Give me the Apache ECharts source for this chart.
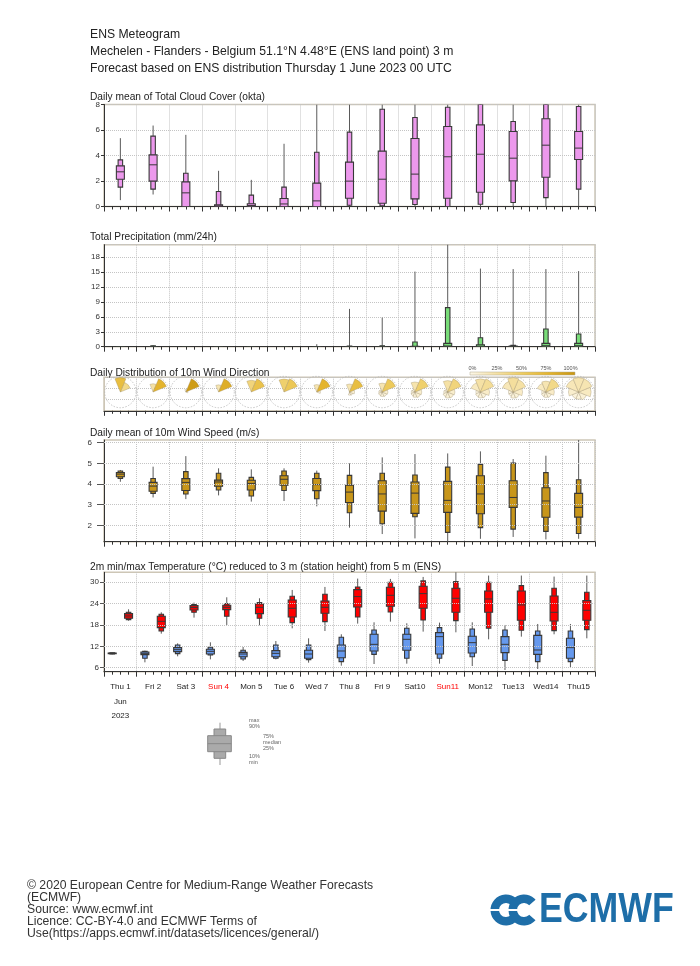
<!DOCTYPE html>
<html><head><meta charset="utf-8">
<script src="https://cdn.jsdelivr.net/npm/echarts@6/dist/echarts.min.js"></script>
<style>html,body{margin:0;padding:0;background:#fff}#c{width:700px;height:966px}</style>
</head><body><div id="c"></div>
<script>
// ---------- DATA ----------
const days = ['Thu 1','Fri 2','Sat 3','Sun 4','Mon 5','Tue 6','Wed 7','Thu 8','Fri 9','Sat10','Sun11','Mon12','Tue13','Wed14','Thu15'];
const redDays = ['Sun 4','Sun11'];

// Total cloud cover (okta)
const cloudMin = [0.5,0.94,0,0,0,0,0,0,0,0,0,0,0,0,0];
const cloudP10 = [1.52,1.36,0,0,0,0,0,0.1,0.05,0.16,0,0.18,0.31,0.7,1.36];
const cloudP25 = [2.14,1.99,0,0,0,0,0,0.65,0.26,0.6,0.65,1.12,2.01,2.3,3.69];
const cloudMed = [2.72,3.27,1.07,0.05,0.08,0.2,0.44,1.99,2.14,2.54,3.9,4.1,3.79,4.81,4.58];
const cloudP75 = [3.19,4.05,1.93,0.13,0.21,0.63,1.83,3.48,4.34,5.33,6.27,6.4,5.88,6.88,5.88];
const cloudP90 = [3.66,5.52,2.61,1.18,0.89,1.52,4.26,5.83,7.63,6.98,7.79,8,6.67,8,7.84];
const cloudMax = [5.36,6.35,5.62,2.8,2.09,4.92,8,8,8,8,8,8,8,8,8];

// Total precipitation (mm/24h)
const precMin = [0,0,0,0,0,0,0,0,0,0,0,0,0,0,0];
const precP10 = [0,0,0,0,0,0,0,0,0,0,0,0,0,0,0];
const precP25 = [0,0,0,0,0,0,0,0,0,0,0.05,0,0,0,0];
const precMed = [0,0,0,0,0,0,0,0,0,0,0.15,0.1,0.05,0.2,0.2];
const precP75 = [0,0.05,0,0,0,0,0,0.05,0.05,0.1,0.67,0.4,0.15,0.67,0.67];
const precP90 = [0.02,0.2,0,0,0,0,0.05,0.15,0.2,0.94,7.86,1.81,0.27,3.56,2.55];
const precMax = [0.1,0.3,0,0,0,0,0.5,7.6,5.85,15.1,21,15.7,15.6,15.6,15.2];

// Wind direction frequency (%) per sector
const dirN  = [65,25,3,20,40,45,20,20,20,22,25,25,28,20,20];
const dirNE = [35,75,95,80,60,55,75,65,52,45,40,30,25,35,20];
const dirE  = [0,0,2,0,0,0,5,8,8,10,10,12,12,12,15];
const dirSE = [0,0,0,0,0,0,0,4,6,8,8,6,6,6,7];
const dirS  = [0,0,0,0,0,0,0,3,5,6,7,5,5,5,5];
const dirSW = [0,0,0,0,0,0,0,0,4,4,5,4,3,4,5];
const dirW  = [0,0,0,0,0,0,0,0,3,3,3,3,3,3,10];
const dirNW = [0,0,0,0,0,0,0,0,2,2,2,15,18,15,18];

// 10m wind speed (m/s)
const wsMin = [4.11,3.35,3.27,3.45,3.15,3.18,2.92,1.89,1.58,1.37,1.21,1.35,1.44,1.32,1.35];
const wsP10 = [4.27,3.55,3.52,3.71,3.42,3.69,3.29,2.61,2.08,2.42,1.66,1.89,1.82,1.71,1.61];
const wsP25 = [4.35,3.65,3.69,3.89,3.71,3.94,3.68,3.11,2.69,2.58,2.63,2.56,2.87,2.39,2.4];
const wsMed = [4.48,3.9,4.08,4.1,4.03,4.23,3.97,3.61,3.52,3.56,3.21,3.52,3.35,3.18,2.87];
const wsP75 = [4.56,4.08,4.26,4.19,4.18,4.4,4.27,3.94,4.16,4.1,4.13,4.4,4.16,3.82,3.55];
const wsP90 = [4.63,4.27,4.6,4.52,4.32,4.63,4.52,4.42,4.52,4.44,4.82,4.95,5.02,4.55,4.21];
const wsMax = [4.68,4.84,5.35,4.76,4.71,4.76,4.65,5.0,5.29,5.45,5.48,5.58,5.21,5.37,6.2];

// 2m max temperature (°C)
const tmaxMin = [19.2,15.56,20.06,18.0,17.9,17.06,16.3,18.38,18.94,16.13,15.94,13.97,14.72,15.38,14.25];
const tmaxP10 = [19.5,16.3,21.56,20.44,19.88,18.66,18.94,20.25,21.66,19.41,19.22,17.06,16.5,16.41,16.69];
const tmaxP25 = [19.88,17.25,22.22,22.31,21.19,20.25,21.28,23.06,23.25,22.69,21.56,21.56,19.31,19.13,19.31];
const tmaxMed = [20.53,19.03,22.88,22.97,22.97,22.69,22.97,25.97,26.34,26.81,25.5,25.31,23.63,21.56,22.13];
const tmaxP75 = [21.19,20.44,23.44,23.53,23.9,25.03,24.75,27.94,28.59,28.88,28.31,27.56,27.56,26.16,24.84];
const tmaxP90 = [21.56,21.0,23.72,24.0,24.28,26.06,26.63,28.69,30.0,30.38,30.19,30.0,29.06,28.31,27.19];
const tmaxMax = [22.4,21.56,24.28,25.78,25.5,27.84,28.69,31.03,30.94,31.5,33,31.88,31.88,31.6,31.88];

// 2m min temperature (°C)
const tminMin = [9.75,7.5,9.19,8.34,7.88,8.34,7.41,6.56,7.03,7.13,7.13,6.47,5.34,5.63,6.09];
const tminP10 = [9.85,8.63,9.94,9.56,8.44,8.63,8.25,7.69,9.75,8.63,8.63,9.09,8.06,7.69,7.69];
const tminP25 = [9.94,9.66,10.5,9.84,9.09,9.09,8.63,8.81,10.69,10.88,9.84,10.13,10.22,9.75,8.63];
const tminMed = [10.03,10.03,11.06,10.59,9.84,10.03,9.84,10.69,12.56,13.97,14.72,13.03,12.56,10.97,11.63];
const tminP75 = [10.13,10.4,11.63,11.16,10.31,10.78,10.88,12.38,15.38,15.38,15.84,14.81,14.72,15.09,14.25];
const tminP90 = [10.15,10.59,12.38,11.72,10.88,12.38,12.38,14.53,16.59,17.06,17.25,16.88,16.59,16.31,16.31];
const tminMax = [10.2,10.78,12.84,13.13,11.81,13.5,14.25,15.38,18.75,18.47,18.66,18.75,18.0,18.28,18.28];

// axis ticks
const cloudTicks = [0,2,4,6,8];
const precTicks = [0,3,6,9,12,15,18];
const wsTicks = [2,3,4,5,6];
const tempTicks = [6,12,18,24,30];
const pctLabels = ['0%','25%','50%','75%','100%'];
const legendLabels = ['max','90%','75%','median','25%','10%','min'];

// ---------- CHART ----------
const FONT = 'Liberation Sans, Arial, sans-serif';
const chart = echarts.init(document.getElementById('c'));
const G = [
  {left:104, top:104.5, width:491, height:102},
  {left:104, top:244.7, width:491, height:102},
  {left:104, top:377.3, width:491, height:33.5},
  {left:104, top:440, width:491, height:101.7},
  {left:104, top:572.3, width:491, height:99.4}
];
const grids = G.map(g => Object.assign({show:true, borderColor:'#cdc6b6', borderWidth:1.5, backgroundColor:'transparent'}, g));

function xAx(i){
  return {gridIndex:i, type:'value', min:0, max:15, interval:1,
    axisLine:{show:true, onZero:false, lineStyle:{color:'#333', width:1}},
    axisTick:{show:true, length:5, inside:false, lineStyle:{color:'#333'}},
    minorTick:{show:true, splitNumber:4, length:3, lineStyle:{color:'#333'}},
    axisLabel:{show:false},
    splitLine:{show:true, lineStyle:{type:'dotted', color:'#c4c4c4'}}};
}
const xAxes = [0,1,2,3,4].map(xAx);
xAxes.push({gridIndex:4, type:'category', data:days, position:'bottom', boundaryGap:true,
  axisLine:{show:false}, axisTick:{show:false}, splitLine:{show:false},
  axisLabel:{interval:0, margin:8, fontSize:8, color:'#222', fontFamily:FONT, lineHeight:14.5, verticalAlign:'top',
    formatter:(v,idx)=>{
      let s = redDays.includes(v) ? '{r|'+v+'}' : v;
      if(idx===0) s += '\nJun\n2023';
      return s;
    },
    rich:{r:{color:'#ff0000', fontSize:8, fontFamily:FONT, lineHeight:14.5}}}});

const yBase = (i, o) => Object.assign({gridIndex:i, type:'value',
  axisLine:{show:true, lineStyle:{color:'#333'}},
  axisTick:{show:true, length:3, lineStyle:{color:'#333'}},
  axisLabel:{fontSize:8, color:'#333', fontFamily:FONT, margin:4},
  splitLine:{show:true, lineStyle:{type:'dotted', color:'#c4c4c4'}}}, o);
const yAxes = [
  yBase(0, {min:0, max:8, interval:2}),
  yBase(1, {min:0, max:20.5, interval:3, axisLabel:{fontSize:8, color:'#333', fontFamily:FONT, margin:4, showMaxLabel:false}}),
  yBase(2, {min:0, max:3, interval:1, axisLabel:{show:false}, axisTick:{show:false}, axisLine:{show:true, lineStyle:{color:'#cdc6b6'}}}),
  yBase(3, {min:1.21, max:6.13,
     axisLabel:{fontSize:8, color:'#333', fontFamily:FONT, margin:12, customValues:wsTicks},
     axisTick:{show:true, length:7, lineStyle:{color:'#555'}, customValues:wsTicks},
     splitLine:{show:false}}),
  yBase(4, {min:4.87, max:32.8,
     axisLabel:{fontSize:8, color:'#333', fontFamily:FONT, margin:5, customValues:tempTicks},
     axisTick:{show:true, length:4, lineStyle:{color:'#555'}, customValues:tempTicks},
     splitLine:{show:false}})
];

function boxData(off, a, b, c, d, e, f, g){
  return days.map((_, i) => [i + off, a[i], b[i], c[i], d[i], e[i], f[i], g[i]]);
}
function boxRender(fill){
  const wide = 8, narrow = 4.5;
  return function(params, api){
    const x = api.value(0);
    const P = k => api.coord([x, api.value(k)]);
    const cx = P(1)[0];
    const yMin=P(1)[1], y10=P(2)[1], y25=P(3)[1], yMed=P(4)[1], y75=P(5)[1], y90=P(6)[1], yMax=P(7)[1];
    return {type:'group', children:[
      {type:'line', shape:{x1:cx,y1:yMin,x2:cx,y2:yMax}, style:{stroke:'#5a5a5a', lineWidth:1}},
      {type:'rect', shape:{x:cx-narrow/2, y:y90, width:narrow, height:Math.max(y10-y90,0.5)}, style:{fill:fill, stroke:'#383838', lineWidth:1.1}},
      {type:'rect', shape:{x:cx-wide/2, y:y75, width:wide, height:Math.max(y25-y75,0.5)}, style:{fill:fill, stroke:'#383838', lineWidth:1.1}},
      {type:'line', shape:{x1:cx-wide/2,y1:yMed,x2:cx+wide/2,y2:yMed}, style:{stroke:'#383838', lineWidth:1}}
    ]};
  };
}
function boxSeries(idx, off, arrs, fill){
  return {type:'custom', xAxisIndex:idx, yAxisIndex:idx, clip:true, silent:true,
    renderItem:boxRender(fill), encode:{x:0, y:[1,2,3,4,5,6,7]},
    data:boxData(off, ...arrs)};
}

// wind rose colours
const stops = [[0,[252,247,232]],[0.25,[245,225,165]],[0.5,[238,204,95]],[0.75,[228,180,45]],[1,[200,150,18]]];
function rampColor(t){
  t = Math.max(0, Math.min(1, t));
  for(let k=1;k<stops.length;k++){
    if(t <= stops[k][0]){
      const a = stops[k-1], b = stops[k], u = (t-a[0])/(b[0]-a[0]);
      const c = a[1].map((v,j)=>Math.round(v + (b[1][j]-v)*u));
      return 'rgb('+c.join(',')+')';
    }
  }
  return 'rgb('+stops[stops.length-1][1].join(',')+')';
}
const dirArrays = [dirN, dirNE, dirE, dirSE, dirS, dirSW, dirW, dirNW];
const roseData = days.map((_, i) => [i + 0.5, 1.68].concat(dirArrays.map(a => a[i])));
function roseRender(params, api){
  const c = api.coord([api.value(0), api.value(1)]);
  const dayW = api.size([1, 0])[0];
  const R = dayW * 0.44;
  const f = [];
  for(let k=0;k<8;k++) f.push({k, v: api.value(2+k)});
  const fmax = Math.max(...f.map(o=>o.v));
  const children = [{type:'circle', shape:{cx:c[0], cy:c[1], r:dayW*0.48},
    style:{fill:'none', stroke:'#b8b8b8', lineWidth:0.8, lineDash:[1.5,1.5]}}];
  f.filter(o=>o.v>0).sort((a,b)=>a.v-b.v).forEach(o=>{
    const b = o.k*45;
    const r = R*Math.sqrt(o.v/fmax);
    children.push({type:'sector', shape:{cx:c[0], cy:c[1], r0:0, r:r,
      startAngle:(b-22.5-90)*Math.PI/180, endAngle:(b+22.5-90)*Math.PI/180, clockwise:true},
      style:{fill:rampColor(o.v/100), stroke:'rgba(150,135,100,0.55)', lineWidth:0.6}});
  });
  return {type:'group', children};
}

function gridLines(idx, ticks){
  return {type:'line', xAxisIndex:idx, yAxisIndex:idx, data:[], silent:true,
    markLine:{silent:true, symbol:'none', animation:false, label:{show:false},
      lineStyle:{type:'dotted', color:'#c4c4c4', width:1},
      data:ticks.map(v=>({yAxis:v}))}};
}

const series = [
  gridLines(3, wsTicks),
  gridLines(4, tempTicks),
  boxSeries(0, 0.5, [cloudMin,cloudP10,cloudP25,cloudMed,cloudP75,cloudP90,cloudMax], '#ec98ec'),
  boxSeries(1, 0.5, [precMin,precP10,precP25,precMed,precP75,precP90,precMax], '#78dc78'),
  {type:'custom', xAxisIndex:2, yAxisIndex:2, clip:false, silent:true, renderItem:roseRender, data:roseData},
  boxSeries(3, 0.5, [wsMin,wsP10,wsP25,wsMed,wsP75,wsP90,wsMax], '#c8961a'),
  boxSeries(4, 0.25, [tminMin,tminP10,tminP25,tminMed,tminP75,tminP90,tminMax], '#6699ee'),
  boxSeries(4, 0.75, [tmaxMin,tmaxP10,tmaxP25,tmaxMed,tmaxP75,tmaxP90,tmaxMax], '#ff0000')
];

function txt(x, y, s, size, opts){
  return Object.assign({type:'text', x:x, y:y, silent:true,
    style:Object.assign({text:s, font:size+'px '+FONT, fill:'#222', verticalAlign:'middle', align:'left'}, (opts||{}))});
}
const graphics = [
  txt(90, 35, 'ENS Meteogram', 12.2),
  txt(90, 52, 'Mechelen - Flanders - Belgium 51.1°N 4.48°E (ENS land point) 3 m', 12.2),
  txt(90, 69, 'Forecast based on ENS distribution Thursday 1 June 2023 00 UTC', 12.2),
  txt(90, 97.5, 'Daily mean of Total Cloud Cover (okta)', 10.2),
  txt(90, 237.5, 'Total Precipitation (mm/24h)', 10.2),
  txt(90, 373.5, 'Daily Distribution of 10m Wind Direction', 10.2),
  txt(90, 433, 'Daily mean of 10m Wind Speed (m/s)', 10.2),
  txt(90, 567, '2m min/max Temperature (°C) reduced to 3 m (station height) from 5 m (ENS)', 10.2),
  // colour bar
  {type:'rect', silent:true, shape:{x:470, y:372, width:105, height:3},
    style:{fill:new echarts.graphic.LinearGradient(0,0,1,0, stops.map(s=>({offset:s[0], color:'rgb('+s[1].join(',')+')'}))), stroke:'#b0a890', lineWidth:0.5}},
];
pctLabels.forEach((s, k) => graphics.push(txt(472.5 + k*24.5, 368, s, 5.5, {align:'center', fill:'#555'})));
// box legend
graphics.push(
  {type:'line', silent:true, shape:{x1:220,y1:722.7,x2:220,y2:765}, style:{stroke:'#999', lineWidth:1}},
  {type:'rect', silent:true, shape:{x:214,y:729,width:11.7,height:29.3}, style:{fill:'#aaaaaa', stroke:'#888', lineWidth:1}},
  {type:'rect', silent:true, shape:{x:207.7,y:735.7,width:23.6,height:16}, style:{fill:'#aaaaaa', stroke:'#888', lineWidth:1}},
  {type:'line', silent:true, shape:{x1:207.7,y1:743.7,x2:231.3,y2:743.7}, style:{stroke:'#888', lineWidth:1}}
);
const legPos = [[249,720],[249,726],[263,736],[263,742],[263,748],[249,756.5],[249,762.5]];
legendLabels.forEach((s,k)=>graphics.push(txt(legPos[k][0], legPos[k][1], s, 5.5, {fill:'#666'})));
// footer
['© 2020 European Centre for Medium-Range Weather Forecasts','(ECMWF)','Source: www.ecmwf.int',
 'Licence: CC-BY-4.0 and ECMWF Terms of','Use(https://apps.ecmwf.int/datasets/licences/general/)']
 .forEach((s,k)=>graphics.push(txt(27, 886 + k*12, s, 12.2, {fill:'#333'})));
// logo
const BLUE = '#1e6ea8';
graphics.push(
  {type:'sector', silent:true, shape:{cx:506, cy:910, r0:7, r:15.5, startAngle:42*Math.PI/180, endAngle:318*Math.PI/180, clockwise:true}, style:{fill:BLUE}},
  {type:'sector', silent:true, shape:{cx:524, cy:910, r0:7, r:15.5, startAngle:42*Math.PI/180, endAngle:318*Math.PI/180, clockwise:true}, style:{fill:BLUE}},
  {type:'rect', silent:true, shape:{x:490, y:909, width:44, height:2}, style:{fill:'#ffffff'}},
  {type:'text', silent:true, x:539, y:910.5, scaleX:0.85, style:{text:'ECMWF', font:'bold 42px '+FONT, fill:BLUE, verticalAlign:'middle'}}
);

chart.setOption({
  animation:false,
  backgroundColor:'#fff',
  grid:grids, xAxis:xAxes, yAxis:yAxes, series:series, graphic:graphics
});
</script></body></html>
